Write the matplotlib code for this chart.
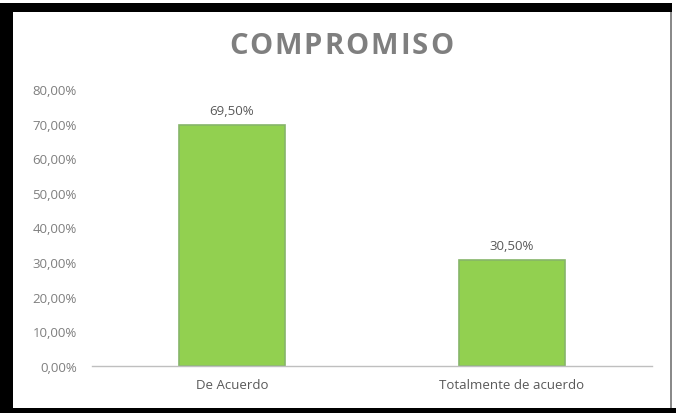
import matplotlib.pyplot as plt
from matplotlib.patches import Rectangle
from matplotlib.ticker import FuncFormatter
from matplotlib.font_manager import FontProperties

plt.rcParams['font.family'] = ['Open Sans', 'DejaVu Sans']

categorias = ['De Acuerdo', 'Totalmente de acuerdo']
valores = [0.695, 0.305]
ticks = [0.0, 0.1, 0.2, 0.3, 0.4, 0.5, 0.6, 0.7, 0.8]
titulo = 'COMPROMISO'


def pct(v, pos=None):
    return ('%.2f%%' % (v * 100)).replace('.', ',')


W, H = 676, 414
fig = plt.figure(figsize=(W / 100, H / 100), dpi=100)
fig.patch.set_facecolor('black')

# fondo blanco dentro del marco negro
fig.add_artist(Rectangle((0, (H - 4) / H), 1, 4 / H, transform=fig.transFigure,
                         facecolor='white', edgecolor='none', zorder=0))
fig.add_artist(Rectangle((13 / W, 5 / H), 657 / W, (H - 18) / H, transform=fig.transFigure,
                         facecolor='white', edgecolor='none', zorder=0))
fig.add_artist(Rectangle((670 / W, 5 / H), 2 / W, (H - 18) / H, transform=fig.transFigure,
                         facecolor='#8a8a8a', edgecolor='none', zorder=0))
fig.add_artist(Rectangle((672 / W, 5 / H), 4 / W, (H - 9) / H, transform=fig.transFigure,
                         facecolor='white', edgecolor='none', zorder=0))

ax = fig.add_axes([92 / W, 47 / H, 560 / W, 277 / H])
ax.patch.set_alpha(0)
x = range(len(categorias))
bars = ax.bar(x, valores, width=0.38, color='#92d050', edgecolor='#86b56a', linewidth=1.2)

for b, v in zip(bars, valores):
    ax.text(b.get_x() + b.get_width() / 2, v + 0.025, pct(v), ha='center', va='bottom',
            fontsize=9.5, color='#595959')

ax.set_xlim(-0.5, 1.5)
ax.set_ylim(0, 0.8)
ax.set_yticks(ticks)
ax.yaxis.set_major_formatter(FuncFormatter(pct))
ax.set_xticks(list(x))
ax.set_xticklabels(categorias)
ax.tick_params(axis='y', length=0, labelsize=9.5, labelcolor='#7f7f7f', pad=11)
ax.tick_params(axis='x', length=0, labelsize=9.5, labelcolor='#595959', pad=9)
for s in ['top', 'right', 'left']:
    ax.spines[s].set_visible(False)
ax.spines['bottom'].set_color('#bfbfbf')
ax.spines['bottom'].set_linewidth(1)

# titulo con espaciado entre letras, medido con el renderer
fp = FontProperties(family='Open Sans', weight='bold', size=21)
r = fig.canvas.get_renderer()


def ancho(s):
    if not s:
        return 0.0
    t = fig.text(0, 0, s, fontproperties=fp)
    w = t.get_window_extent(renderer=r).width
    t.remove()
    return w


pre = [ancho(titulo[:i]) for i in range(len(titulo) + 1)]
objetivo = 224.0
track = (objetivo - pre[-1]) / (len(titulo) - 1)
x0 = 341 - objetivo / 2
for i, c in enumerate(titulo):
    fig.text((x0 + pre[i] + i * track) / W, (H - 47) / H, c, ha='left', va='center',
             fontproperties=fp, color='#7f7f7f')

fig.savefig('out.png', dpi=100, facecolor=fig.get_facecolor())
